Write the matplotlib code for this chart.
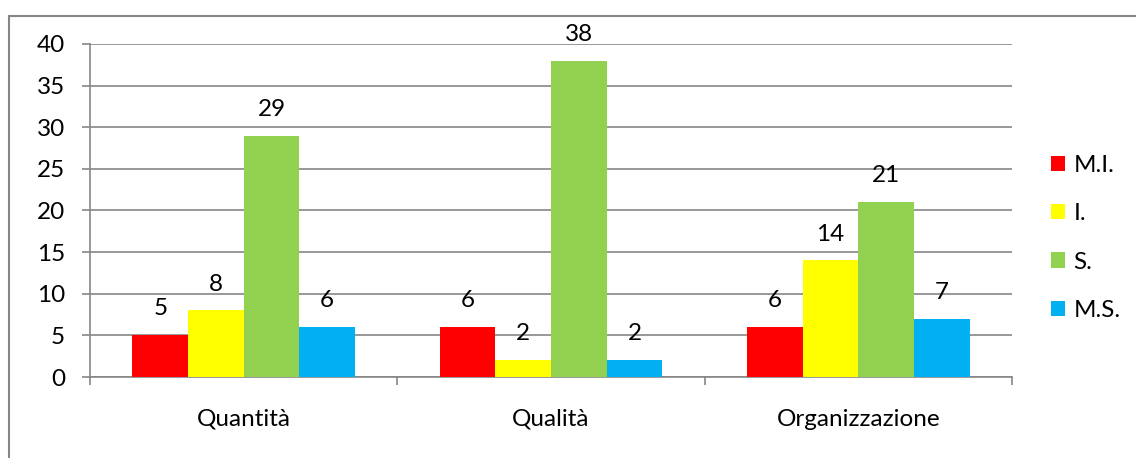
import matplotlib
matplotlib.use("Agg")
import matplotlib.pyplot as plt
from matplotlib.lines import Line2D
import numpy as np

categories = ["Quantità", "Qualità", "Organizzazione"]
series = ["M.I.", "I.", "S.", "M.S."]
mi = [5, 6, 6]
i_ = [8, 2, 14]
s = [29, 38, 21]
ms = [6, 2, 7]
colors = ["#FF0000", "#FFFF00", "#92D050", "#00B0F0"]

plt.rcParams["font.family"] = ["Lato", "DejaVu Sans"]
plt.rcParams["font.size"] = 17.5

fig = plt.figure(figsize=(11.36, 4.58), dpi=100)
ax = fig.add_axes([90 / 1136, 1 - 377 / 458, 922 / 1136, 333 / 458])

grey = "#868686"
x = np.arange(len(categories))
w = 0.181
for k, (vals, col, name) in enumerate(zip([mi, i_, s, ms], colors, series)):
    pos = x + (k - 1.5) * w
    ax.bar(pos, vals, width=w, color=col, label=name, zorder=3)
    for px, v in zip(pos, vals):
        ax.annotate(str(v), (px, v), xytext=(0, 19), textcoords="offset points",
                    ha="center", va="center")

ax.set_xlim(-0.5, 2.5)
ax.set_ylim(0, 40)
ax.set_yticks(range(0, 41, 5))
ax.yaxis.grid(True, color=grey, linewidth=1.2, zorder=0)
ax.set_xticks([-0.5, 0.5, 1.5, 2.5])
ax.set_xticklabels([])
ax.set_xticks(x, minor=True)
ax.set_xticklabels(categories, minor=True)
ax.tick_params(axis="x", which="major", length=6, color=grey, width=1.2, direction="out")
ax.tick_params(axis="x", which="minor", length=0, pad=23)
ax.tick_params(axis="y", length=6, color=grey, width=1.2, pad=12)
for side in ["top", "right"]:
    ax.spines[side].set_visible(False)
for side in ["left", "bottom"]:
    ax.spines[side].set_color(grey)
    ax.spines[side].set_linewidth(1.2)

fig.legend(loc="center left", bbox_to_anchor=(1051 / 1136, 1 - 238 / 458),
           frameon=False, handlelength=0.58, handleheight=0.58,
           handletextpad=0.35, labelspacing=1.12, borderpad=0, borderaxespad=0)

# outer chart border (only left and top edges visible in frame)
fig.add_artist(Line2D([9 / 1136, 9 / 1136], [0, 1 - 16 / 458], color=grey, linewidth=1.5))
fig.add_artist(Line2D([9 / 1136, 1], [1 - 16 / 458, 1 - 16 / 458], color=grey, linewidth=1.5))

fig.savefig("out.png", dpi=100)
